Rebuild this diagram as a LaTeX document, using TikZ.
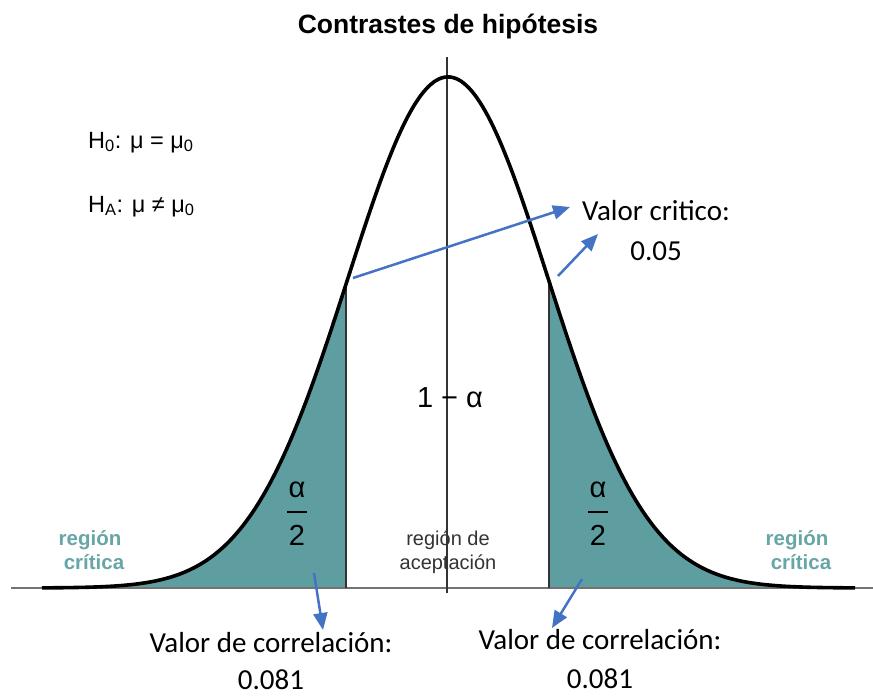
\documentclass[tikz,border=0pt]{standalone}
\usepackage{fontspec}
\setmainfont{Liberation Sans}
\newfontfamily\calibri{Carlito}
\usetikzlibrary{arrows.meta}
\definecolor{tailfill}{RGB}{95,158,160}
\definecolor{tailtext}{RGB}{104,166,166}
\definecolor{arrowblue}{RGB}{68,114,196}
\pgfmathdeclarefunction{bell}{1}{\pgfmathparse{588-511*exp(-((#1-448)/100)^2/2)}}
\tikzset{
  curve/.style={line width=3.6pt,black},
  marker/.style={line width=1.1pt,black!80},
  note/.style={font=\calibri\fontsize{29}{34}\selectfont,anchor=base,inner sep=0pt},
  hyp/.style={font=\fontsize{23.5}{28}\selectfont,anchor=base west,inner sep=0pt},
  big/.style={font=\fontsize{29}{34}\selectfont,anchor=base,inner sep=0pt},
  crit/.style={font=\bfseries\fontsize{20.5}{24}\selectfont,text=tailtext,anchor=base,inner sep=0pt},
  small/.style={font=\fontsize{20}{24}\selectfont,text=black!80,anchor=base,inner sep=0pt},
  pointer/.style={arrowblue,line width=2.5pt,-{Triangle[length=17pt,width=14pt]}},
}
\begin{document}
\begin{tikzpicture}[x=1pt,y=-1pt]
  \useasboundingbox (0,0) rectangle (873,696);

  % shaded tails
  \fill[tailfill] (42,588) -- plot[domain=42:346,samples=120] (\x,{bell(\x)}) -- (346,588) -- cycle;
  \fill[tailfill] (549,588) -- plot[domain=549:855,samples=120] (\x,{bell(\x)}) -- (855,588) -- cycle;

  % axis and limits
  \draw[line width=1.5pt,black!55] (11,588) -- (873,588);
  \draw[marker] (447,57) -- (447,593);
  \draw[marker] (346,588) -- (346,{bell(346)});
  \draw[marker] (549,588) -- (549,{bell(549)});
  \draw[curve] plot[domain=42:855,samples=300] (\x,{bell(\x)});

  \node[font=\bfseries\fontsize{26.5}{30}\selectfont,anchor=base,inner sep=0pt] (title) at (448,33) {Contrastes de hipótesis};
  \node[hyp] (H0) at (88,148) {H\textsubscript{0}: μ = μ\textsubscript{0}};
  \node[hyp] (HA) at (88,212) {H\textsubscript{A}: μ ≠ μ\textsubscript{0}};

  \node[big] (accept) at (450,407) {1 − α};
  \node[big] (alphaL) at (297,497) {α};
  \node[big] (twoL) at (297,545) {2};
  \node[big] (alphaR) at (598,497) {α};
  \node[big] (twoR) at (598,545) {2};
  \draw[line width=1.6pt] (287,512) -- (307,512);
  \draw[line width=1.6pt] (588,512) -- (608,512);

  \node[crit] (critL1) at (90,545) {región};
  \node[crit] (critL2) at (94,569) {crítica};
  \node[crit] (critR1) at (797,545) {región};
  \node[crit] (critR2) at (801,569) {crítica};
  \node[small] (acc1) at (448,545) {región de};
  \node[small] (acc2) at (448,569) {aceptación};

  \node[note] (crit) at (656,220) {Valor critico:};
  \node[note] (critval) at (656,260) {0.05};
  \node[note] (corrL) at (271,652) {Valor de correlación:};
  \node[note] (corrLval) at (271,689) {0.081};
  \node[note] (corrR) at (600,649) {Valor de correlación:};
  \node[note] (corrRval) at (600,688) {0.081};

  % pointers
  \coordinate (p1) at (353,278);
  \coordinate (q1) at (570,207);
  \coordinate (p2) at (558,276);
  \coordinate (q2) at (598,234);
  \coordinate (p3) at (314,573);
  \coordinate (q3) at (323,630);
  \coordinate (p4) at (582,579);
  \coordinate (q4) at (552,628);
  \draw[pointer] (p1) -- (q1);
  \draw[pointer] (p2) -- (q2);
  \draw[pointer] (p3) -- (q3);
  \draw[pointer] (p4) -- (q4);
\end{tikzpicture}
\end{document}
